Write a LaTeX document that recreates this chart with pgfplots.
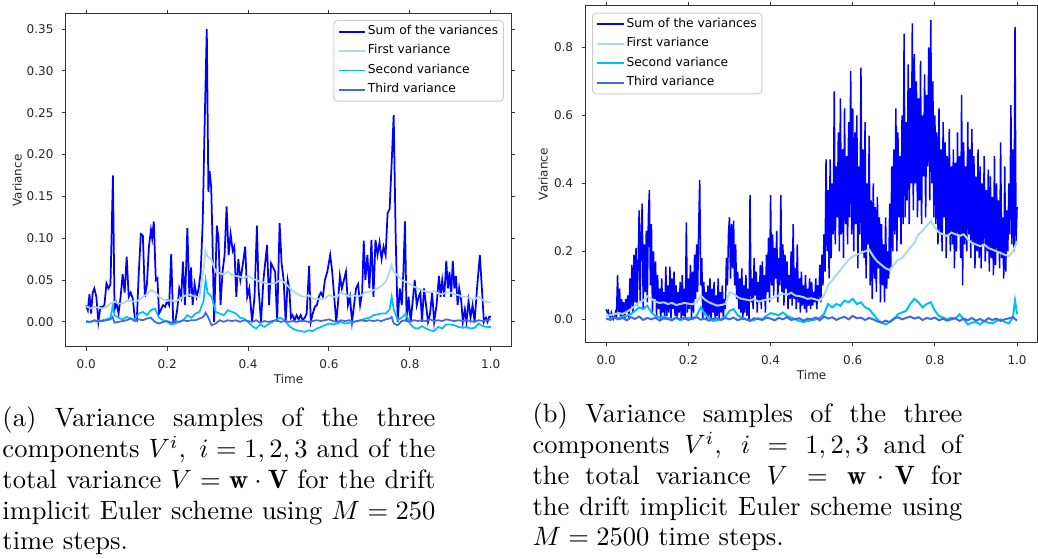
\documentclass[border=0pt]{standalone}
\usepackage{fix-cm}
\usepackage{fontspec}
\usepackage{pgfplots}
\pgfplotsset{compat=1.18}
\newfontfamily\dv{DejaVu Sans}
\definecolor{mblue}{RGB}{0,0,255}
\definecolor{mlight}{RGB}{173,216,230}
\definecolor{mdeep}{RGB}{0,191,255}
\definecolor{mroyal}{RGB}{65,105,225}
\pgfplotsset{
  mpl/.style={
    scale only axis,
    axis line style={black!80, line width=0.4pt},
    tick align=outside,
    major tick length=1.5pt,
    tick style={black!80, line width=0.4pt},
    tick label style={font=\dv\fontsize{4.8}{5.8}\selectfont, text=black!85},
    /pgf/number format/assume math mode=true,
    label style={font=\dv\fontsize{4.8}{5.8}\selectfont, text=black!85},
    xlabel={Time}, ylabel={Variance},
    xtick={0,0.2,0.4,0.6,0.8,1},
    x tick label style={/pgf/number format/fixed, /pgf/number format/fixed zerofill, /pgf/number format/precision=1},
    scaled ticks=false,
    xmin=-0.05, xmax=1.05,
    legend cell align=left,
    legend style={draw=black!20, rounded corners=1.5pt, fill=white,
      font=\dv\fontsize{4.9}{5.9}\selectfont, inner xsep=1.5pt, inner ysep=1.2pt, row sep=1.4pt,
      nodes={inner sep=0.6pt}},
  },
  limg/.style 2 args={legend image code/.code={\draw[color=#1, line width=#2] (0pt,0pt) -- (10.7pt,0pt);}},
}
\begin{document}
\begin{tikzpicture}
\path[use as bounding box] (0,0) rectangle (415.2pt,223.6pt);

% ---------------- left panel (M = 250)
\begin{axis}[mpl, at={(26.4pt,84.8pt)}, anchor=south west, width=178pt, height=133.2pt,
  ymin=-0.030, ymax=0.368,
  ytick={0,0.05,0.1,0.15,0.2,0.25,0.3,0.35},
  y tick label style={/pgf/number format/fixed, /pgf/number format/fixed zerofill, /pgf/number format/precision=2},
  ylabel style={at={(axis description cs:-0.110,0.5)}, anchor=center},
  xlabel style={at={(axis description cs:0.5,-0.097)}, anchor=center},
  legend style={at={(0.984,0.982)}, anchor=north east}]
\addplot[color=mblue, line width=0.7pt, limg={mblue}{0.8pt}] coordinates {
(0.000,0.020)(0.004,0.014)(0.008,0.033)(0.012,0.010)(0.016,0.035)(0.020,0.040)(0.025,0.030)(0.030,0.000)
(0.035,0.018)(0.040,0.018)(0.045,0.020)(0.050,0.046)(0.055,0.040)(0.060,0.045)(0.066,0.175)(0.070,0.015)
(0.075,0.022)(0.080,0.010)(0.085,0.030)(0.090,0.057)(0.095,0.035)(0.100,0.078)(0.105,0.030)(0.110,0.035)
(0.115,0.028)(0.120,0.005)(0.125,0.002)(0.130,0.060)(0.135,0.105)(0.140,0.103)(0.145,0.030)(0.150,0.045)
(0.155,0.090)(0.160,0.110)(0.163,0.100)(0.167,0.120)(0.172,0.050)(0.176,0.052)(0.180,0.010)(0.185,0.015)
(0.190,0.020)(0.195,0.018)(0.200,0.025)(0.205,0.020)(0.210,0.081)(0.215,0.000)(0.220,0.000)(0.225,0.015)
(0.230,0.040)(0.235,0.030)(0.239,0.072)(0.244,0.020)(0.250,0.112)(0.255,0.030)(0.259,0.065)(0.263,0.020)
(0.268,0.045)(0.273,0.030)(0.278,0.040)(0.283,0.060)(0.288,0.120)(0.292,0.220)(0.298,0.350)(0.302,0.155)
(0.305,0.180)(0.309,0.160)(0.312,0.100)(0.316,0.000)(0.323,0.115)(0.327,0.100)(0.332,0.020)(0.337,0.060)
(0.342,0.080)(0.347,0.138)(0.352,0.080)(0.357,0.105)(0.362,0.085)(0.366,0.090)(0.371,0.030)(0.376,0.075)
(0.381,0.050)(0.386,0.065)(0.393,0.090)(0.398,0.030)(0.403,0.040)(0.410,0.000)(0.416,0.030)(0.422,0.115)
(0.426,0.040)(0.432,0.000)(0.438,0.050)(0.447,0.092)(0.452,0.020)(0.457,0.070)(0.462,0.065)(0.467,0.060)
(0.472,0.000)(0.478,0.118)(0.483,0.070)(0.488,0.050)(0.493,0.000)(0.498,0.050)(0.502,0.040)(0.506,0.005)
(0.510,0.008)(0.515,0.002)(0.520,0.008)(0.525,0.003)(0.530,0.008)(0.535,0.002)(0.540,0.005)(0.545,0.010)
(0.551,0.067)(0.555,0.000)(0.560,0.010)(0.565,0.018)(0.570,0.020)(0.575,0.030)(0.580,0.035)(0.585,0.030)
(0.590,0.050)(0.596,0.060)(0.603,0.080)(0.608,0.060)(0.613,0.030)(0.618,0.000)(0.622,0.020)(0.627,0.055)
(0.632,0.040)(0.637,0.050)(0.642,0.060)(0.647,0.020)(0.652,0.030)(0.657,0.000)(0.662,0.020)(0.667,0.040)
(0.672,0.045)(0.677,0.020)(0.682,0.035)(0.686,0.097)(0.690,0.050)(0.695,0.080)(0.700,0.040)(0.705,0.098)
(0.710,0.030)(0.715,0.098)(0.720,0.080)(0.725,0.095)(0.730,0.075)(0.735,0.090)(0.740,0.080)(0.745,0.130)
(0.750,0.135)(0.755,0.190)(0.760,0.247)(0.765,0.100)(0.770,0.000)(0.775,0.040)(0.780,0.020)(0.784,0.060)
(0.788,0.120)(0.792,0.000)(0.797,0.030)(0.802,0.000)(0.807,0.025)(0.812,0.050)(0.817,0.020)(0.822,0.030)
(0.826,0.035)(0.830,0.000)(0.835,0.040)(0.840,0.020)(0.845,0.000)(0.850,0.010)(0.855,0.035)(0.860,0.000)
(0.866,0.020)(0.872,0.055)(0.876,0.030)(0.880,0.050)(0.885,0.030)(0.890,0.073)(0.894,0.040)(0.898,0.060)
(0.902,0.030)(0.906,0.073)(0.910,0.040)(0.914,0.055)(0.918,0.020)(0.922,0.040)(0.927,0.025)(0.931,0.000)
(0.936,0.015)(0.940,0.000)(0.945,0.025)(0.950,0.005)(0.955,0.020)(0.960,0.000)(0.966,0.040)(0.973,0.080)
(0.978,0.040)(0.983,0.000)(0.988,0.005)(0.992,0.000)(0.996,0.006)(1.000,0.006)};
\addlegendentry{Sum of the variances}
\addplot[color=mlight, line width=0.7pt, limg={mlight}{0.7pt}] coordinates {
(0.00,0.019)(0.01,0.016)(0.02,0.018)(0.03,0.017)(0.04,0.016)(0.05,0.018)(0.06,0.022)(0.07,0.024)
(0.08,0.022)(0.09,0.022)(0.10,0.025)(0.11,0.025)(0.12,0.024)(0.13,0.026)(0.14,0.030)(0.15,0.033)
(0.16,0.038)(0.17,0.036)(0.18,0.030)(0.19,0.027)(0.20,0.025)(0.21,0.026)(0.22,0.024)(0.23,0.027)
(0.24,0.030)(0.25,0.033)(0.26,0.032)(0.27,0.030)(0.28,0.030)(0.29,0.062)(0.295,0.085)(0.30,0.078)
(0.31,0.074)(0.32,0.060)(0.33,0.058)(0.34,0.057)(0.35,0.060)(0.36,0.056)(0.37,0.055)(0.38,0.054)
(0.39,0.052)(0.40,0.055)(0.41,0.052)(0.42,0.050)(0.43,0.048)(0.44,0.047)(0.45,0.045)(0.46,0.046)
(0.47,0.047)(0.48,0.050)(0.49,0.047)(0.50,0.042)(0.51,0.037)(0.52,0.034)(0.53,0.031)(0.54,0.030)
(0.55,0.032)(0.56,0.028)(0.57,0.027)(0.58,0.027)(0.59,0.028)(0.60,0.032)(0.61,0.030)(0.62,0.030)
(0.63,0.035)(0.64,0.033)(0.65,0.030)(0.66,0.032)(0.67,0.030)(0.68,0.032)(0.69,0.035)(0.70,0.036)
(0.71,0.038)(0.72,0.040)(0.73,0.043)(0.74,0.048)(0.75,0.060)(0.755,0.068)(0.76,0.060)(0.77,0.055)
(0.78,0.050)(0.79,0.048)(0.80,0.045)(0.81,0.042)(0.82,0.040)(0.83,0.038)(0.84,0.036)(0.85,0.035)
(0.86,0.037)(0.87,0.034)(0.88,0.033)(0.89,0.035)(0.90,0.035)(0.91,0.033)(0.92,0.032)(0.93,0.030)
(0.94,0.030)(0.95,0.028)(0.96,0.027)(0.97,0.030)(0.98,0.026)(0.99,0.024)(1.00,0.023)};
\addlegendentry{First variance}
\addplot[color=mdeep, line width=0.7pt, limg={mdeep}{0.7pt}] coordinates {
(0.00,0.000)(0.01,0.000)(0.02,0.001)(0.03,0.000)(0.04,0.002)(0.05,0.003)(0.06,0.005)(0.065,0.018)
(0.07,0.008)(0.08,0.005)(0.09,0.003)(0.10,0.006)(0.11,0.004)(0.12,0.003)(0.13,0.010)(0.14,0.012)
(0.15,0.008)(0.16,0.014)(0.17,0.016)(0.18,0.005)(0.19,0.002)(0.20,0.000)(0.21,-0.003)(0.22,-0.002)
(0.23,0.000)(0.24,0.002)(0.25,0.008)(0.26,0.005)(0.27,0.010)(0.28,0.012)(0.29,0.025)(0.295,0.050)
(0.30,0.035)(0.31,0.030)(0.32,0.012)(0.33,0.010)(0.34,0.008)(0.35,0.014)(0.36,0.012)(0.37,0.010)
(0.38,0.005)(0.39,0.004)(0.40,0.000)(0.41,-0.005)(0.42,-0.008)(0.43,-0.003)(0.44,-0.006)(0.45,-0.003)
(0.46,0.000)(0.47,0.003)(0.48,0.005)(0.49,0.002)(0.50,-0.004)(0.51,-0.008)(0.52,-0.010)(0.53,-0.011)
(0.54,-0.012)(0.55,-0.010)(0.56,-0.011)(0.57,-0.008)(0.58,-0.006)(0.59,-0.004)(0.60,-0.002)(0.61,-0.003)
(0.62,-0.002)(0.63,0.000)(0.64,-0.002)(0.65,-0.001)(0.66,0.000)(0.67,0.001)(0.68,0.002)(0.69,0.004)
(0.70,0.005)(0.71,0.008)(0.72,0.009)(0.73,0.010)(0.74,0.010)(0.75,0.015)(0.755,0.030)(0.76,0.015)
(0.77,0.002)(0.78,0.005)(0.79,0.010)(0.80,-0.002)(0.81,-0.007)(0.82,-0.008)(0.83,-0.005)(0.84,-0.008)
(0.85,-0.010)(0.86,-0.011)(0.87,-0.006)(0.88,-0.008)(0.89,-0.003)(0.90,-0.003)(0.91,-0.004)(0.92,-0.006)
(0.93,-0.007)(0.94,-0.006)(0.95,-0.008)(0.96,-0.007)(0.97,-0.002)(0.98,-0.005)(0.99,-0.006)(1.00,-0.006)};
\addlegendentry{Second variance}
\addplot[color=mroyal, line width=0.7pt, limg={mroyal}{0.7pt}] coordinates {
(0.00,0.001)(0.01,0.000)(0.02,0.002)(0.03,0.001)(0.04,0.001)(0.05,0.002)(0.06,0.003)(0.065,0.006)
(0.07,-0.001)(0.08,0.000)(0.09,0.001)(0.10,0.002)(0.11,0.004)(0.12,0.001)(0.13,0.003)(0.14,0.002)
(0.15,0.004)(0.16,0.005)(0.17,0.000)(0.18,-0.002)(0.19,0.000)(0.20,0.001)(0.21,-0.001)(0.22,0.001)
(0.23,0.000)(0.24,0.002)(0.25,0.001)(0.26,0.002)(0.27,0.002)(0.28,0.004)(0.29,0.006)(0.295,0.011)
(0.30,0.007)(0.31,-0.004)(0.32,-0.002)(0.33,0.002)(0.34,0.000)(0.35,0.002)(0.36,0.001)(0.37,0.002)
(0.38,0.000)(0.39,0.002)(0.40,0.001)(0.41,0.000)(0.42,0.002)(0.43,-0.001)(0.44,0.001)(0.45,0.000)
(0.46,0.001)(0.47,0.002)(0.48,0.000)(0.49,0.001)(0.50,0.000)(0.51,0.001)(0.52,0.000)(0.53,0.001)
(0.54,0.001)(0.55,0.000)(0.56,0.001)(0.57,0.002)(0.58,0.001)(0.59,0.002)(0.60,0.003)(0.61,0.001)
(0.62,0.000)(0.63,0.002)(0.64,0.001)(0.65,0.002)(0.66,0.000)(0.67,0.001)(0.68,0.002)(0.69,0.001)
(0.70,0.002)(0.71,0.001)(0.72,0.002)(0.73,0.001)(0.74,0.003)(0.75,0.004)(0.755,0.006)(0.76,-0.002)
(0.77,-0.004)(0.78,0.001)(0.79,0.002)(0.80,0.000)(0.81,0.002)(0.82,0.001)(0.83,0.002)(0.84,0.001)
(0.85,0.003)(0.86,0.001)(0.87,0.002)(0.88,0.001)(0.89,0.003)(0.90,0.002)(0.91,0.001)(0.92,0.002)
(0.93,0.001)(0.94,0.002)(0.95,0.001)(0.96,0.000)(0.97,0.002)(0.98,0.001)(0.99,0.002)(1.00,0.003)};
\addlegendentry{Third variance}
\end{axis}

% ---------------- right panel (M = 2500)
\begin{axis}[mpl, at={(234.28pt,86.52pt)}, anchor=south west, width=180.76pt, height=134.68pt,
  ymin=-0.0688, ymax=0.9215,
  ytick={0,0.2,0.4,0.6,0.8},
  y tick label style={/pgf/number format/fixed, /pgf/number format/fixed zerofill, /pgf/number format/precision=1},
  ylabel style={at={(axis description cs:-0.094,0.5)}, anchor=center},
  xlabel style={at={(axis description cs:0.5,-0.096)}, anchor=center},
  legend style={at={(0.014,0.980)}, anchor=north west}]
\addplot[color=mblue, line width=0.6pt, limg={mblue}{0.8pt}] coordinates {
(0,0.03)(0.0025,0.02)(0.005,0.025)(0.0075,0.01)(0.01,0.005)(0.0125,0.02)(0.015,0.01)(0.0175,0.0)(0.02,0.005)(0.0225,0.02)
(0.025,0.01)(0.0275,0.13)(0.03,0.02)(0.0325,0.09)(0.035,0.0)(0.0375,0.06)(0.04,0.01)(0.0425,0.05)(0.045,0.0)(0.0475,0.06)
(0.05,0.02)(0.0525,0.07)(0.055,0.0)(0.0575,0.12)(0.06,0.03)(0.0625,0.16)(0.065,0.02)(0.0675,0.19)(0.07,0.05)(0.0725,0.21)
(0.075,0.04)(0.0775,0.15)(0.08,0.32)(0.0825,0.05)(0.085,0.25)(0.0875,0.34)(0.09,0.03)(0.0925,0.22)(0.095,0.08)(0.0975,0.26)
(0.1,0.05)(0.1025,0.30)(0.105,0.38)(0.1075,0.10)(0.11,0.28)(0.1125,0.02)(0.115,0.20)(0.1175,0.06)(0.12,0.17)(0.1225,0.01)
(0.125,0.13)(0.1275,0.03)(0.13,0.09)(0.1325,0.0)(0.135,0.12)(0.1375,0.02)(0.14,0.08)(0.1425,0.0)(0.145,0.155)(0.1475,0.01)
(0.15,0.10)(0.1525,0.02)(0.155,0.155)(0.1575,0.0)(0.16,0.12)(0.1625,0.03)(0.165,0.14)(0.1675,0.01)(0.17,0.10)(0.1725,0.0)
(0.175,0.08)(0.1775,0.02)(0.18,0.11)(0.1825,0.0)(0.185,0.13)(0.1875,0.01)(0.19,0.09)(0.1925,0.0)(0.195,0.285)(0.1975,0.02)
(0.2,0.12)(0.2025,0.03)(0.205,0.16)(0.2075,0.0)(0.21,0.14)(0.2125,0.02)(0.215,0.19)(0.2175,0.06)(0.22,0.22)(0.2225,0.08)
(0.225,0.27)(0.2275,0.41)(0.23,0.10)(0.2325,0.18)(0.235,0.0)(0.2375,0.11)(0.24,0.02)(0.2425,0.08)(0.245,0.0)(0.2475,0.10)
(0.25,0.01)(0.2525,0.12)(0.255,0.0)(0.2575,0.09)(0.26,0.02)(0.2625,0.11)(0.265,0.0)(0.2675,0.07)(0.27,0.01)(0.2725,0.12)
(0.275,0.0)(0.2775,0.08)(0.28,0.02)(0.2825,0.10)(0.285,0.0)(0.2875,0.06)(0.29,0.03)(0.2925,0.18)(0.295,0.10)(0.2975,0.25)
(0.3,0.30)(0.3025,0.12)(0.305,0.28)(0.3075,0.15)(0.31,0.29)(0.3125,0.10)(0.315,0.22)(0.3175,0.06)(0.32,0.14)(0.3225,0.03)
(0.325,0.12)(0.3275,0.02)(0.33,0.15)(0.3325,0.0)(0.335,0.10)(0.3375,0.02)(0.34,0.13)(0.3425,0.01)(0.345,0.09)(0.3475,0.0)
(0.35,0.365)(0.3525,0.05)(0.355,0.12)(0.3575,0.03)(0.36,0.18)(0.3625,0.07)(0.365,0.14)(0.3675,0.02)(0.37,0.11)(0.3725,0.05)
(0.375,0.16)(0.3775,0.03)(0.38,0.17)(0.3825,0.06)(0.385,0.13)(0.3875,0.02)(0.39,0.19)(0.3925,0.08)(0.395,0.24)(0.3975,0.05)
(0.4,0.365)(0.4025,0.10)(0.405,0.25)(0.4075,0.07)(0.41,0.21)(0.4125,0.12)(0.415,0.26)(0.4175,0.05)(0.42,0.18)(0.4225,0.10)
(0.425,0.365)(0.4275,0.08)(0.43,0.22)(0.4325,0.04)(0.435,0.19)(0.4375,0.09)(0.44,0.17)(0.4425,0.03)(0.445,0.13)(0.4475,0.06)
(0.45,0.20)(0.4525,0.04)(0.455,0.28)(0.4575,0.06)(0.46,0.15)(0.4625,0.03)(0.465,0.22)(0.4675,0.05)(0.47,0.12)(0.4725,0.02)
(0.475,0.14)(0.4775,0.04)(0.48,0.10)(0.4825,0.03)(0.485,0.13)(0.4875,0.02)(0.49,0.09)(0.4925,0.04)(0.495,0.12)(0.4975,0.03)
(0.5,0.11)(0.5025,0.04)(0.505,0.08)(0.5075,0.05)(0.51,0.12)(0.5125,0.03)(0.515,0.10)(0.5175,0.06)(0.52,0.16)(0.5225,0.05)
(0.525,0.19)(0.5275,0.10)(0.53,0.25)(0.5325,0.14)(0.535,0.47)(0.5375,0.20)(0.54,0.38)(0.5425,0.12)(0.545,0.47)(0.5475,0.18)
(0.55,0.40)(0.5525,0.25)(0.555,0.67)(0.5575,0.22)(0.56,0.45)(0.5625,0.30)(0.565,0.55)(0.5675,0.20)(0.57,0.65)(0.5725,0.25)
(0.575,0.50)(0.5775,0.18)(0.58,0.62)(0.5825,0.28)(0.585,0.48)(0.5875,0.22)(0.59,0.58)(0.5925,0.30)(0.595,0.73)(0.5975,0.25)
(0.6,0.62)(0.6025,0.20)(0.605,0.55)(0.6075,0.28)(0.61,0.60)(0.6125,0.15)(0.615,0.45)(0.6175,0.25)(0.62,0.74)(0.6225,0.20)
(0.625,0.50)(0.6275,0.18)(0.63,0.58)(0.6325,0.12)(0.635,0.40)(0.6375,0.22)(0.64,0.54)(0.6425,0.10)(0.645,0.35)(0.6475,0.06)
(0.65,0.40)(0.6525,0.12)(0.655,0.33)(0.6575,0.08)(0.66,0.36)(0.6625,0.15)(0.665,0.30)(0.6675,0.05)(0.67,0.28)(0.6725,0.10)
(0.675,0.22)(0.6775,0.05)(0.68,0.30)(0.6825,0.09)(0.685,0.20)(0.6875,0.12)(0.69,0.34)(0.6925,0.15)(0.695,0.45)(0.6975,0.20)
(0.7,0.50)(0.7025,0.25)(0.705,0.62)(0.7075,0.20)(0.71,0.55)(0.7125,0.30)(0.715,0.48)(0.7175,0.22)(0.72,0.60)(0.7225,0.28)
(0.725,0.84)(0.7275,0.30)(0.73,0.58)(0.7325,0.35)(0.735,0.75)(0.7375,0.28)(0.74,0.68)(0.7425,0.40)(0.745,0.87)(0.7475,0.32)
(0.75,0.78)(0.7525,0.40)(0.755,0.70)(0.7575,0.30)(0.76,0.65)(0.7625,0.35)(0.765,0.76)(0.7675,0.28)(0.77,0.60)(0.7725,0.42)
(0.775,0.72)(0.7775,0.30)(0.78,0.66)(0.7825,0.45)(0.785,0.80)(0.7875,0.35)(0.79,0.88)(0.7925,0.40)(0.795,0.70)(0.7975,0.30)
(0.8,0.60)(0.8025,0.28)(0.805,0.55)(0.8075,0.22)(0.81,0.62)(0.8125,0.25)(0.815,0.50)(0.8175,0.20)(0.82,0.58)(0.8225,0.30)
(0.825,0.52)(0.8275,0.18)(0.83,0.48)(0.8325,0.25)(0.835,0.56)(0.8375,0.20)(0.84,0.45)(0.8425,0.22)(0.845,0.50)(0.8475,0.15)
(0.85,0.46)(0.8525,0.20)(0.855,0.55)(0.8575,0.25)(0.86,0.48)(0.8625,0.18)(0.865,0.66)(0.8675,0.10)(0.87,0.52)(0.8725,0.22)
(0.875,0.45)(0.8775,0.20)(0.88,0.58)(0.8825,0.25)(0.885,0.50)(0.8875,0.18)(0.89,0.56)(0.8925,0.22)(0.895,0.48)(0.8975,0.15)
(0.9,0.42)(0.9025,0.20)(0.905,0.50)(0.9075,0.18)(0.91,0.45)(0.9125,0.15)(0.915,0.40)(0.9175,0.22)(0.92,0.48)(0.9225,0.17)
(0.925,0.38)(0.9275,0.20)(0.93,0.44)(0.9325,0.14)(0.935,0.42)(0.9375,0.18)(0.94,0.36)(0.9425,0.13)(0.945,0.48)(0.9475,0.16)
(0.95,0.40)(0.9525,0.20)(0.955,0.35)(0.9575,0.15)(0.96,0.52)(0.9625,0.18)(0.965,0.30)(0.9675,0.12)(0.97,0.45)(0.9725,0.14)
(0.975,0.32)(0.9775,0.20)(0.98,0.40)(0.9825,0.25)(0.985,0.63)(0.9875,0.22)(0.99,0.50)(0.9925,0.20)(0.995,0.86)(0.9975,0.22)
(1.0,0.33)};
\addlegendentry{Sum of the variances}
\addplot[color=mlight, line width=0.8pt, limg={mlight}{0.8pt}] coordinates {
(0.00,0.010)(0.01,0.012)(0.02,0.015)(0.03,0.018)(0.04,0.016)(0.05,0.022)(0.06,0.030)(0.07,0.040)(0.08,0.050)(0.09,0.055)
(0.10,0.068)(0.11,0.060)(0.12,0.052)(0.13,0.048)(0.14,0.050)(0.15,0.045)(0.16,0.048)(0.17,0.042)(0.18,0.045)(0.19,0.048)
(0.20,0.046)(0.21,0.044)(0.22,0.050)(0.23,0.070)(0.24,0.058)(0.25,0.050)(0.26,0.045)(0.27,0.040)(0.28,0.042)(0.29,0.045)
(0.30,0.080)(0.31,0.075)(0.32,0.065)(0.33,0.060)(0.34,0.058)(0.35,0.055)(0.36,0.060)(0.37,0.052)(0.38,0.055)(0.39,0.058)
(0.40,0.060)(0.41,0.065)(0.42,0.070)(0.43,0.075)(0.44,0.072)(0.45,0.078)(0.46,0.070)(0.47,0.068)(0.48,0.065)(0.49,0.060)
(0.50,0.062)(0.51,0.058)(0.52,0.055)(0.53,0.070)(0.54,0.100)(0.55,0.115)(0.56,0.130)(0.57,0.145)(0.58,0.160)(0.59,0.175)
(0.60,0.185)(0.61,0.190)(0.62,0.195)(0.63,0.200)(0.64,0.205)(0.65,0.185)(0.66,0.170)(0.67,0.160)(0.68,0.150)(0.69,0.145)
(0.70,0.160)(0.71,0.175)(0.72,0.180)(0.73,0.195)(0.74,0.210)(0.75,0.225)(0.76,0.250)(0.77,0.260)(0.78,0.275)(0.79,0.290)
(0.80,0.270)(0.81,0.255)(0.82,0.250)(0.83,0.245)(0.84,0.255)(0.85,0.250)(0.86,0.245)(0.87,0.250)(0.88,0.235)(0.89,0.225)
(0.90,0.220)(0.91,0.215)(0.92,0.220)(0.93,0.210)(0.94,0.205)(0.95,0.200)(0.96,0.195)(0.97,0.190)(0.98,0.185)(0.99,0.200)
(1.00,0.230)};
\addlegendentry{First variance}
\addplot[color=mdeep, line width=0.8pt, limg={mdeep}{0.8pt}] coordinates {
(0.00,0.000)(0.01,0.002)(0.02,0.005)(0.03,0.003)(0.04,0.008)(0.05,0.010)(0.06,0.015)(0.07,0.025)(0.08,0.035)(0.09,0.030)
(0.10,0.040)(0.11,0.020)(0.12,0.010)(0.13,0.005)(0.14,0.008)(0.15,0.003)(0.16,0.000)(0.17,0.005)(0.18,-0.003)(0.19,0.002)
(0.20,0.005)(0.21,0.000)(0.22,0.010)(0.23,0.035)(0.24,0.015)(0.25,0.005)(0.26,-0.005)(0.27,-0.003)(0.28,0.000)(0.29,0.008)
(0.30,0.025)(0.31,0.030)(0.32,0.012)(0.33,0.005)(0.34,0.000)(0.35,-0.005)(0.36,-0.002)(0.37,0.003)(0.38,0.000)(0.39,0.010)
(0.40,0.018)(0.41,0.015)(0.42,0.012)(0.43,0.020)(0.44,0.010)(0.45,0.005)(0.46,0.000)(0.47,-0.005)(0.48,-0.008)(0.49,-0.005)
(0.50,-0.003)(0.51,0.000)(0.52,0.005)(0.53,0.015)(0.54,0.045)(0.55,0.035)(0.56,0.045)(0.57,0.040)(0.58,0.055)(0.59,0.050)
(0.60,0.060)(0.61,0.045)(0.62,0.050)(0.63,0.035)(0.64,0.030)(0.65,0.015)(0.66,0.000)(0.67,-0.010)(0.68,-0.015)(0.69,-0.008)
(0.70,0.000)(0.71,0.015)(0.72,0.020)(0.73,0.025)(0.74,0.045)(0.75,0.060)(0.76,0.050)(0.77,0.035)(0.78,0.045)(0.79,0.050)
(0.80,0.025)(0.81,0.010)(0.82,0.005)(0.83,0.000)(0.84,0.005)(0.85,0.002)(0.86,0.015)(0.87,0.000)(0.88,-0.015)(0.89,-0.010)
(0.90,-0.008)(0.91,-0.015)(0.92,-0.005)(0.93,-0.010)(0.94,-0.012)(0.95,-0.005)(0.96,0.000)(0.97,-0.008)(0.98,-0.012)(0.99,0.005)
(0.995,0.055)(1.00,0.015)};
\addlegendentry{Second variance}
\addplot[color=mroyal, line width=0.8pt, limg={mroyal}{0.8pt}] coordinates {
(0.00,0.003)(0.01,-0.002)(0.02,0.005)(0.03,0.000)(0.04,0.004)(0.05,-0.003)(0.06,0.006)(0.07,0.001)(0.08,0.008)(0.09,-0.002)
(0.10,0.004)(0.11,0.000)(0.12,0.005)(0.13,-0.004)(0.14,0.003)(0.15,0.001)(0.16,-0.003)(0.17,0.005)(0.18,0.000)(0.19,0.004)
(0.20,-0.002)(0.21,0.003)(0.22,0.006)(0.23,-0.001)(0.24,0.002)(0.25,-0.004)(0.26,0.001)(0.27,0.003)(0.28,-0.002)(0.29,0.004)
(0.30,0.000)(0.31,0.005)(0.32,-0.003)(0.33,0.002)(0.34,0.000)(0.35,-0.004)(0.36,0.003)(0.37,0.001)(0.38,-0.002)(0.39,0.005)
(0.40,0.002)(0.41,-0.003)(0.42,0.004)(0.43,0.000)(0.44,0.006)(0.45,-0.002)(0.46,0.001)(0.47,0.003)(0.48,-0.004)(0.49,0.002)
(0.50,0.000)(0.51,0.005)(0.52,-0.003)(0.53,0.008)(0.54,0.002)(0.55,0.006)(0.56,-0.002)(0.57,0.004)(0.58,0.007)(0.59,0.000)
(0.60,0.010)(0.61,0.003)(0.62,0.005)(0.63,-0.002)(0.64,0.004)(0.65,0.000)(0.66,-0.006)(0.67,-0.010)(0.68,-0.004)(0.69,-0.008)
(0.70,0.002)(0.71,0.006)(0.72,0.000)(0.73,0.004)(0.74,0.008)(0.75,0.002)(0.76,0.006)(0.77,-0.002)(0.78,0.004)(0.79,0.001)
(0.80,0.005)(0.81,-0.003)(0.82,0.002)(0.83,-0.004)(0.84,0.000)(0.85,0.003)(0.86,-0.005)(0.87,0.002)(0.88,-0.003)(0.89,0.004)
(0.90,-0.004)(0.91,0.001)(0.92,-0.006)(0.93,0.003)(0.94,-0.002)(0.95,0.002)(0.96,-0.005)(0.97,0.000)(0.98,0.003)(0.99,0.006)
(1.00,-0.004)};
\addlegendentry{Third variance}
\end{axis}

% ---------------- captions
\node[anchor=base west, inner sep=0pt, text width=173.2pt, align=justify,
      font=\fontsize{10.6}{12.3}\selectfont] at (0.8pt,52.8pt)
{(a) Variance samples of the three\linebreak
components $V^i,\ i=1,2,3$ and of the\linebreak
total variance $V=\mathbf{w}\cdot\mathbf{V}$ for the drift\linebreak
implicit Euler scheme using $M=250$\linebreak
time steps.};
\node[anchor=base west, inner sep=0pt, text width=172pt, align=justify,
      font=\fontsize{10.6}{12.3}\selectfont] at (212.8pt,54.4pt)
{(b) Variance samples of the three\linebreak
components $V^i,\ i=1,2,3$ and of\linebreak
the total variance $V=\mathbf{w}\cdot\mathbf{V}$ for\linebreak
the drift implicit Euler scheme using\linebreak
$M=2500$ time steps.};
\end{tikzpicture}
\end{document}
